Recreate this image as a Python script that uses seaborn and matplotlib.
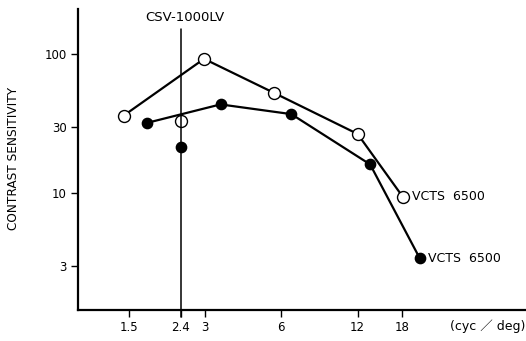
import matplotlib
matplotlib.use("Agg")
import matplotlib.pyplot as plt
import matplotlib.ticker as mticker
import matplotlib.transforms as mtransforms
import pandas as pd
import seaborn as sns

# VCTS 6500, open circles (cyc/deg, contrast sensitivity)
vcts_open_freq = [1.43, 2.97, 5.6, 12.0, 18.1]
vcts_open_cs = [36.2, 92.9, 52.9, 26.7, 9.4]

# VCTS 6500, filled circles
vcts_filled_freq = [1.77, 3.45, 6.57, 13.45, 21.1]
vcts_filled_cs = [32.1, 43.6, 37.1, 16.1, 3.4]

# CSV-1000LV, single frequency
csv_freq = [2.4]
csv_open_cs = [33.2]
csv_filled_cs = [21.6]

x_ticks = [1.5, 2.4, 3, 6, 12, 18]
x_tick_labels = ["1.5", "2.4", "3", "6", "12", "18"]
y_ticks = [3, 10, 30, 100]
y_tick_labels = ["3", "10", "30", "100"]

series_label = "VCTS  6500"
csv_label = "CSV-1000LV"

sns.set_style("ticks")
plt.rcParams["font.family"] = ["DejaVu Sans"]
plt.rcParams["text.color"] = "black"

W, H = 526, 341
fig = plt.figure(figsize=(W / 100, H / 100), dpi=100)
ax = fig.add_axes([78 / W, 1 - 310 / H, (W - 79) / W, (310 - 9) / H])

open_df = pd.DataFrame({"freq": vcts_open_freq, "cs": vcts_open_cs})
filled_df = pd.DataFrame({"freq": vcts_filled_freq, "cs": vcts_filled_cs})

line_kw = dict(color="black", linewidth=1.6, marker="o", markeredgecolor="black",
               markeredgewidth=1.0, zorder=3)
sns.lineplot(data=open_df, x="freq", y="cs", ax=ax, markerfacecolor="white",
             markersize=8.6, **line_kw)
sns.lineplot(data=filled_df, x="freq", y="cs", ax=ax, markerfacecolor="black",
             markersize=7.4, **line_kw)

sns.scatterplot(x=csv_freq, y=csv_open_cs, ax=ax, s=74, facecolor="white",
                edgecolor="black", linewidth=1.0, zorder=3)
sns.scatterplot(x=csv_freq, y=csv_filled_cs, ax=ax, s=55, facecolor="black",
                edgecolor="black", linewidth=1.0, zorder=3)

ax.set_xscale("log")
ax.set_yscale("log")
ax.set_xlim(0.944, 55.0)
ax.set_ylim(1.436, 212.5)

# vertical reference line at the CSV-1000LV frequency
ax.axvline(csv_freq[0], ymin=-0.022, ymax=0.934, color="black", linewidth=1.1,
           zorder=4, clip_on=False)

ax.xaxis.set_major_locator(mticker.FixedLocator(x_ticks))
ax.xaxis.set_major_formatter(mticker.FixedFormatter(x_tick_labels))
ax.yaxis.set_major_locator(mticker.FixedLocator(y_ticks))
ax.yaxis.set_major_formatter(mticker.FixedFormatter(y_tick_labels))
ax.xaxis.set_minor_locator(mticker.NullLocator())
ax.yaxis.set_minor_locator(mticker.NullLocator())

ax.tick_params(axis="both", direction="out", length=5, width=1.0, color="black",
               labelsize=8.5, labelcolor="black")
ax.tick_params(axis="x", pad=3)
ax.tick_params(axis="y", pad=3)

sns.despine(ax=ax, top=True, right=True)
for side in ("left", "bottom"):
    ax.spines[side].set_linewidth(1.6)
    ax.spines[side].set_color("black")

ax.set_xlabel("")
ax.set_ylabel("")
fig.text(14 / W, 1 - 158 / H, "CONTRAST SENSITIVITY", rotation=90,
         ha="center", va="center", fontsize=8.7, color="black")

ax.text(1.0, -0.03, "(cyc ／ deg)", transform=ax.transAxes, ha="right", va="top",
        fontsize=9, color="black", family=["DejaVu Sans", "Noto Sans CJK JP"])

blend = mtransforms.blended_transform_factory(ax.transData, ax.transAxes)
ax.annotate(csv_label, xy=(csv_freq[0], 0.973), xycoords=blend,
            xytext=(3, 0), textcoords="offset points", ha="center", va="center",
            fontsize=9.5, color="black")

ax.annotate(series_label, xy=(vcts_open_freq[-1], vcts_open_cs[-1]),
            xytext=(6.3, 0), textcoords="offset points", ha="left", va="center",
            fontsize=9, color="black")
ax.annotate(series_label, xy=(vcts_filled_freq[-1], vcts_filled_cs[-1]),
            xytext=(6.3, 0), textcoords="offset points", ha="left", va="center",
            fontsize=9, color="black")

fig.savefig("out.png", dpi=100)
